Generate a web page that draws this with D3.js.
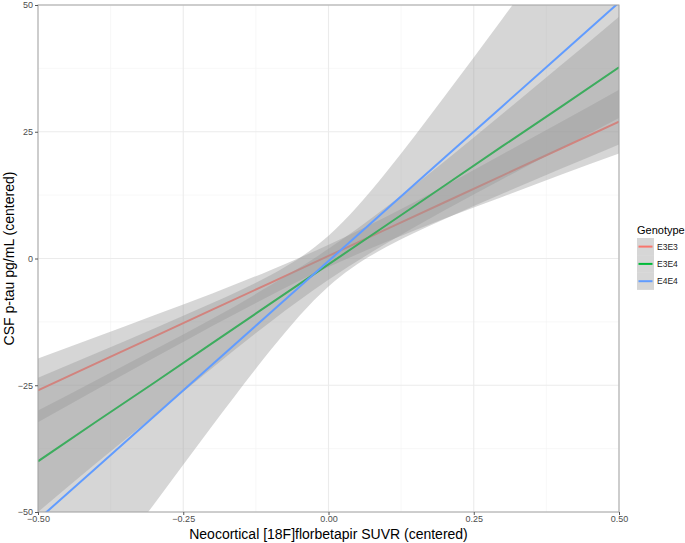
<!DOCTYPE html>
<html>
<head>
<meta charset="utf-8">
<script src="https://cdn.jsdelivr.net/npm/d3@7"></script>
<style>
  body { margin: 0; background: #fff; }
  svg { font-family: "Liberation Sans", Arial, sans-serif; }
</style>
</head>
<body>
<div id="chart"></div>
<script>
// values
let genotypes = ["E3E3", "E3E4", "E4E4"];
let colors = ["#F8766D", "#00BA38", "#619CFF"];
let xs = [-0.5, -0.4, -0.3, -0.2, -0.1, 0, 0.1, 0.2, 0.3, 0.4, 0.5];

let fitE3E3 = [-26, -20.7, -15.4, -10.1, -4.8, 0.5, 5.8, 11.1, 16.4, 21.7, 27];
let lowE3E3 = [-32.3, -25.9, -19.6, -13.3, -7.3, -1.7, 3.3, 7.9, 12.2, 16.5, 20.7];
let highE3E3 = [-19.7, -15.5, -11.2, -6.9, -2.3, 2.7, 8.3, 14.3, 20.6, 26.9, 33.3];

let fitE3E4 = [-40, -32.2, -24.5, -16.7, -8.9, -1.15, 6.6, 14.4, 22.2, 29.9, 37.7];
let lowE3E4 = [-50, -40.4, -31, -21.6, -12.5, -4.2, 3, 9.5, 15.7, 21.7, 27.7];
let highE3E4 = [-30, -24, -18, -11.9, -5.3, 1.9, 10.2, 19.2, 28.6, 38.1, 47.7];

let fitE4E4 = [-51.5, -41.3, -31.1, -20.9, -10.7, -0.5, 9.7, 19.9, 30.1, 40.3, 50.5];
let lowE4E4 = [-79.5, -63.9, -48.4, -33, -18.1, -5.5, 2.3, 7.8, 12.8, 17.7, 22.5];
let highE4E4 = [-23.5, -18.7, -13.8, -8.8, -3.3, 4.5, 17.1, 32, 47.4, 62.9, 78.5];

let xTicks = [-0.5, -0.25, 0, 0.25, 0.5];
let yTicks = [-50, -25, 0, 25, 50];
let xMinor = [-0.375, -0.125, 0.125, 0.375];
let yMinor = [-37.5, -12.5, 12.5, 37.5];

let series = [
  {name: genotypes[0], color: colors[0], fit: fitE3E3, low: lowE3E3, high: highE3E3},
  {name: genotypes[1], color: colors[1], fit: fitE3E4, low: lowE3E4, high: highE3E4},
  {name: genotypes[2], color: colors[2], fit: fitE4E4, low: lowE4E4, high: highE4E4}
];

let width = 685, height = 543;
let pLeft = 38, pRight = 619, pTop = 5, pBottom = 512;

let svg = d3.select("#chart").append("svg")
  .attr("width", width)
  .attr("height", height);

let x = d3.scaleLinear().domain([-0.5, 0.5]).range([pLeft, pRight]);
let y = d3.scaleLinear().domain([-50, 50]).range([pBottom, pTop]);

// grid
svg.selectAll(".xminor").data(xMinor).enter().append("line")
  .attr("x1", d => x(d)).attr("x2", d => x(d))
  .attr("y1", pTop).attr("y2", pBottom)
  .style("stroke", "#f4f4f4").style("stroke-width", 0.6);
svg.selectAll(".yminor").data(yMinor).enter().append("line")
  .attr("y1", d => y(d)).attr("y2", d => y(d))
  .attr("x1", pLeft).attr("x2", pRight)
  .style("stroke", "#f4f4f4").style("stroke-width", 0.6);
svg.selectAll(".xmajor").data(xTicks).enter().append("line")
  .attr("x1", d => x(d)).attr("x2", d => x(d))
  .attr("y1", pTop).attr("y2", pBottom)
  .style("stroke", "#ebebeb").style("stroke-width", 1.1);
svg.selectAll(".ymajor").data(yTicks).enter().append("line")
  .attr("y1", d => y(d)).attr("y2", d => y(d))
  .attr("x1", pLeft).attr("x2", pRight)
  .style("stroke", "#ebebeb").style("stroke-width", 1.1);

svg.append("clipPath").attr("id", "clip")
  .append("rect")
  .attr("x", pLeft).attr("y", pTop)
  .attr("width", pRight - pLeft).attr("height", pBottom - pTop);

let plot = svg.append("g").attr("clip-path", "url(#clip)");

let band = d3.area()
  .x((d, i) => x(xs[i]))
  .y0(d => y(d[0]))
  .y1(d => y(d[1]))
  .curve(d3.curveNatural);

let fitLine = d3.line()
  .x((d, i) => x(xs[i]))
  .y(d => y(d))
  .curve(d3.curveLinear);

series.forEach(s => {
  plot.append("path")
    .datum(s.low.map((v, i) => [v, s.high[i]]))
    .attr("d", band)
    .style("fill", "#999999")
    .style("fill-opacity", 0.4);
  plot.append("path")
    .datum(s.fit)
    .attr("d", fitLine)
    .style("fill", "none")
    .style("stroke", s.color)
    .style("stroke-width", 2);
});

// panel border
svg.append("rect")
  .attr("x", pLeft).attr("y", pTop)
  .attr("width", pRight - pLeft).attr("height", pBottom - pTop)
  .style("fill", "none")
  .style("stroke", "#a6a6a6")
  .style("stroke-width", 1);

// axes
let xAxis = svg.append("g")
  .attr("transform", `translate(0,${pBottom})`)
  .call(d3.axisBottom(x).tickValues(xTicks).tickFormat(d3.format(".2f")).tickSizeOuter(0).tickSize(3).tickPadding(1));
let yAxis = svg.append("g")
  .attr("transform", `translate(${pLeft},0)`)
  .call(d3.axisLeft(y).tickValues(yTicks).tickFormat(d3.format("d")).tickSizeOuter(0).tickSize(3).tickPadding(2));

[xAxis, yAxis].forEach(a => {
  a.select(".domain").remove();
  a.selectAll(".tick line").style("stroke", "#555");
  a.selectAll(".tick text")
    .style("font-size", "9px")
    .style("fill", "#4d4d4d")
    .style("font-family", "Liberation Sans, Arial, sans-serif");
});

// axis titles
svg.append("text")
  .attr("x", (pLeft + pRight) / 2)
  .attr("y", 539)
  .attr("text-anchor", "middle")
  .style("font-size", "14px")
  .text("Neocortical [18F]florbetapir SUVR (centered)");

svg.append("text")
  .attr("transform", `translate(14,${(pTop + pBottom) / 2}) rotate(-90)`)
  .attr("text-anchor", "middle")
  .style("font-size", "14px")
  .text("CSF p-tau pg/mL (centered)");

// legend
let legend = svg.append("g").attr("transform", "translate(637,0)");
legend.append("text")
  .attr("x", 0).attr("y", 234)
  .style("font-size", "11px")
  .text("Genotype");

let keys = legend.selectAll(".key").data(series).enter().append("g")
  .attr("transform", (d, i) => `translate(0,${238 + i * 17.3})`);
keys.append("rect")
  .attr("width", 17).attr("height", 17.3)
  .style("fill", "#999999").style("fill-opacity", 0.4);
keys.append("line")
  .attr("x1", 1.5).attr("x2", 15.5)
  .attr("y1", 8.6).attr("y2", 8.6)
  .style("stroke", d => d.color)
  .style("stroke-width", 2);
keys.append("text")
  .attr("x", 20).attr("y", 11.8)
  .style("font-size", "8.5px")
  .style("fill", "#1a1a1a")
  .text(d => d.name);
</script>
</body>
</html>
